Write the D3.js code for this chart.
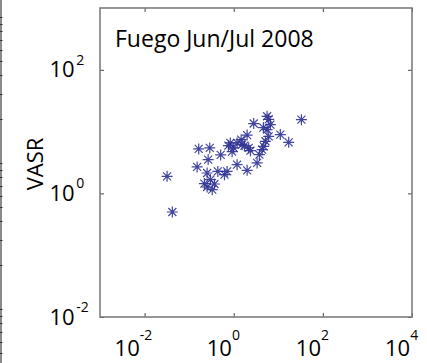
<!DOCTYPE html>
<html>
<head>
<meta charset="utf-8">
<script src="https://cdn.jsdelivr.net/npm/d3@7"></script>
<style>
  html, body { margin: 0; padding: 0; background: #fff; }
  svg { display: block; }
  text { font-family: "Open Sans", "Noto Sans", sans-serif; fill: #000; }
</style>
</head>
<body>
<svg id="chart" width="427" height="363"></svg>
<script>
// ---- data ----
const title = "Fuego Jun/Jul 2008";
const yLabel = "VASR";
const xVals = [0.032, 0.042, 0.164, 0.29, 0.151, 0.267, 0.51, 0.253, 0.30, 0.253, 0.37, 0.44, 0.62, 0.71, 1.19, 2.0, 3.35, 0.84, 1.0, 0.92, 1.19, 1.54, 2.0, 2.17, 2.37, 2.81, 4.33, 4.71, 5.14, 5.61, 6.09, 5.61, 6.09, 11.1, 17.1, 33.0, 1.47, 1.74, 0.76, 4.63, 6.65, 3.77, 0.33, 0.22];
const yVals = [1.89, 0.50, 5.24, 5.44, 2.68, 3.52, 4.19, 2.14, 1.67, 1.27, 1.42, 2.27, 2.01, 2.27, 2.92, 2.36, 3.11, 6.56, 5.44, 4.74, 6.56, 6.15, 8.77, 5.44, 4.92, 13.5, 5.11, 5.78, 6.97, 17.7, 15.8, 10.8, 8.39, 8.94, 6.71, 15.6, 7.41, 5.93, 5.93, 11.6, 13.0, 4.24, 1.15, 1.44];
const xTickExps = [-2, 0, 2, 4];
const yTickExps = [-2, 0, 2];
const xDomain = [1e-3, 1e4];
const yDomain = [1e-2, 1e3];

// ---- layout ----
const svg = d3.select("#chart");
const L = 100, R = 412, T = 8, B = 317;
const x = d3.scaleLog().domain(xDomain).range([L, R]);
const y = d3.scaleLog().domain(yDomain).range([B, T]);

svg.append("rect").attr("width", 427).attr("height", 363).attr("fill", "#fff");

// left edge fragment of neighbouring panel axis
const edge = d3.scaleLog().domain([1, 100]).range([309.3, 17.3]);
svg.append("rect").attr("x", 0).attr("y", 0).attr("width", 2).attr("height", 363).attr("fill", "#8a8a8a");
const edgeTicks = edge.ticks().filter(v => edge(v) >= 0 && edge(v) <= 363);
const edgeExtra = [0.4, 0.5, 0.6, 0.7, 0.8, 0.9].filter(v => edge(v) <= 363);
svg.append("g").selectAll("line").data(edgeTicks.concat(edgeExtra)).join("line")
  .attr("x1", 0).attr("x2", 2.5)
  .attr("y1", d => Math.round(edge(d)) + 0.5).attr("y2", d => Math.round(edge(d)) + 0.5)
  .attr("stroke", "#333").attr("stroke-width", 1);

// ticks (inward) via d3 axes
const tickVx = xTickExps.map(e => Math.pow(10, e));
const tickVy = yTickExps.map(e => Math.pow(10, e));
function styleAxis(g) {
  g.select(".domain").remove();
  g.selectAll(".tick line").attr("stroke", "#444").attr("stroke-width", 1);
  g.selectAll(".tick text").remove();
}
svg.append("g").attr("transform", `translate(0,${B})`)
  .call(d3.axisBottom(x).tickValues(tickVx).tickSize(-4).tickFormat("")).call(styleAxis);
svg.append("g").attr("transform", `translate(0,${T})`)
  .call(d3.axisTop(x).tickValues(tickVx).tickSize(-4).tickFormat("")).call(styleAxis);
svg.append("g").attr("transform", `translate(${L},0)`)
  .call(d3.axisLeft(y).tickValues(tickVy).tickSize(-4).tickFormat("")).call(styleAxis);
svg.append("g").attr("transform", `translate(${R},0)`)
  .call(d3.axisRight(y).tickValues(tickVy).tickSize(-4).tickFormat("")).call(styleAxis);

// frame
svg.append("rect").attr("x", L).attr("y", T).attr("width", R - L).attr("height", B - T)
  .attr("fill", "none").attr("stroke", "#7d7d7d").attr("stroke-width", 1.6);

const expStr = d => d < 0 ? "-" + Math.abs(d) : String(d);

// x tick labels: one text each, base "10" + raised exponent
const xl = svg.append("g").selectAll("text").data(xTickExps).join("text")
  .attr("y", 356).attr("font-size", 22);
xl.append("tspan").attr("x", d => x(Math.pow(10, d)) - (d < 0 ? 30 : 27)).text("10");
xl.append("tspan").attr("font-size", 14).attr("dy", -16).text(expStr);

// y tick labels
const yl = svg.append("g").selectAll("text").data(yTickExps).join("text")
  .attr("font-size", 22);
yl.append("tspan").attr("x", 49.5).attr("y", d => y(Math.pow(10, d)) + 7.5).text("10");
yl.append("tspan").attr("font-size", 14).attr("dx", 1.5).attr("dy", -12.5).text(expStr);

// y label
svg.append("text").attr("transform", "translate(43,164) rotate(-90)")
  .attr("text-anchor", "middle").attr("font-size", 22).text(yLabel);

// title
svg.append("text").attr("x", 115).attr("y", 46.5).attr("font-size", 23).text(title);

// asterisk markers
const star = "M-5.5,0H5.5M0,-5.5V5.5M-4,-4L4,4M-4,4L4,-4";
svg.append("g").selectAll("path").data(xVals.map((v, i) => [v, yVals[i]])).join("path")
  .attr("transform", d => `translate(${x(d[0])},${y(d[1])})`)
  .attr("d", star).attr("fill", "none")
  .attr("stroke", "#2e3192").attr("stroke-width", 1.2).attr("stroke-opacity", 0.9);
</script>
</body>
</html>
